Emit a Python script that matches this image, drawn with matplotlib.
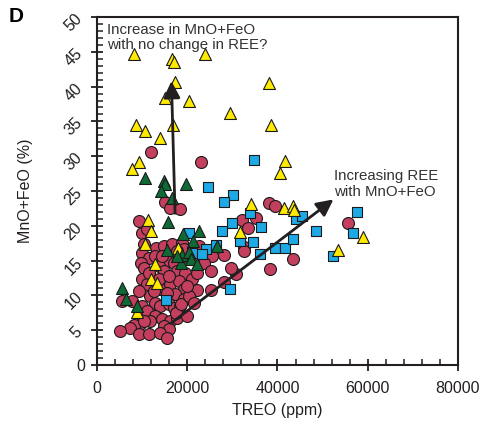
import matplotlib
matplotlib.use("Agg")
import matplotlib.pyplot as plt
from matplotlib.ticker import MultipleLocator

plt.rcParams['font.family'] = ['Liberation Sans', 'DejaVu Sans']

# ---- data (TREO ppm, MnO+FeO %) ----
red_x = [11999, 23109, 15110, 16221, 18443, 9332, 9999, 11110, 38218, 39551,
         32219, 33552, 35330, 32663, 13110, 14887, 16665, 10443, 10000, 11554,
         12888, 15554, 17110, 13777, 9800, 18887, 43329, 55550, 28219, 25553,
         38440, 10443, 14887, 17776, 19554, 9999, 11110, 13999, 16221, 18221,
         19331, 17332, 19331, 11777, 12888, 9999, 11110, 13999, 15999, 17110,
         18443, 12888, 11777, 14443, 16221, 14887, 15999, 9555, 8222, 7333,
         5555, 5111, 9332, 11554, 13999, 15554, 17776, 10443, 17554, 19998,
         18665, 22220, 25331, 28219, 30886, 29775, 32663, 23109, 20442, 21109,
         20442, 19331, 21553, 22664, 17776, 14443, 23775, 25331, 22220, 12666,
         15554, 19998, 9332, 7777, 11554, 13777, 15999, 21553]
red_y = [30.6, 29.2, 23.4, 22.6, 22.4, 20.7, 19.0, 19.5, 23.3, 22.8,
         20.8, 19.7, 21.1, 17.0, 16.8, 17.1, 17.4, 17.4, 16.1, 15.4,
         15.7, 14.9, 14.7, 14.2, 14.6, 17.5, 15.2, 20.4, 15.8, 15.7,
         13.8, 13.9, 13.5, 13.5, 13.2, 12.4, 11.6, 10.9, 11.6, 12.1,
         10.9, 10.2, 9.5, 9.9, 8.9, 8.5, 7.8, 8.5, 8.8, 8.2,
         8.5, 7.0, 6.3, 6.6, 6.3, 5.6, 5.2, 5.9, 5.7, 5.3,
         9.2, 4.9, 4.5, 4.5, 4.6, 3.9, 6.8, 6.3, 7.5, 7.0,
         8.8, 10.8, 10.8, 11.9, 13.1, 13.9, 16.4, 15.9, 15.4, 12.4,
         9.9, 16.7, 16.4, 17.1, 16.4, 15.7, 14.7, 13.5, 13.2, 10.6,
         10.3, 11.4, 10.6, 9.2, 13.2, 12.4, 12.8, 8.9]

blue_x = [34885, 24664, 30219, 28219, 33997, 29997, 36441, 27775, 20442, 31775,
          34663, 39551, 41773, 36219, 24220, 26442, 21109, 23331, 43995, 45328,
          48439, 57550, 56661, 52217, 43329, 15332, 29553]
blue_y = [29.5, 25.6, 24.4, 23.4, 21.8, 20.4, 19.8, 19.3, 19.0, 17.8,
          17.7, 16.8, 16.8, 15.9, 16.7, 17.2, 16.1, 15.9, 21.0, 21.4,
          19.3, 22.0, 19.0, 15.7, 18.1, 9.3, 10.9]

yellow_x = [8222, 16665, 17110, 23998, 17332, 15110, 20442, 38218, 29553, 8666,
            10666, 16887, 38663, 13999, 9332, 7777, 34219, 41551, 41773, 40662,
            11332, 11999, 10666, 17998, 31775, 43329, 43551, 58883, 53328, 12888,
            11999, 13332, 8888]
yellow_y = [44.7, 44.0, 43.5, 44.7, 40.6, 38.4, 37.9, 40.5, 36.2, 34.5,
            33.6, 34.5, 34.5, 32.6, 29.2, 28.2, 23.1, 22.6, 29.3, 27.6,
            20.8, 19.3, 17.4, 16.8, 19.1, 22.8, 22.3, 18.4, 16.5, 14.5,
            12.4, 11.8, 7.6]

green_x = [10666, 14887, 15110, 19776, 14221, 16665, 15776, 22664, 19109, 21331,
           26664, 15554, 18887, 20442, 20887, 22220, 18665, 17776, 5555, 6444,
           8888]
green_y = [26.9, 26.4, 26.0, 26.0, 25.0, 24.0, 20.5, 19.3, 18.8, 17.8,
           17.1, 16.5, 15.8, 16.2, 15.2, 14.5, 14.7, 15.7, 11.1, 9.5,
           8.5]

# arrows: (tail, head)
arrow1 = ((17300, 21.8), (16500, 40.8))
arrow2 = ((16400, 6.0), (52400, 23.8))

x_ticks = [0, 20000, 40000, 60000, 80000]
y_ticks = [0, 5, 10, 15, 20, 25, 30, 35, 40, 45, 50]

fig = plt.figure(figsize=(4.83, 4.25), dpi=100)
ax = fig.add_axes([0.2008, 0.141, 0.7474, 0.819])

ec = '#1a1a1a'
ax.scatter(red_x, red_y, s=74, marker='o', facecolor='#C43F5E', edgecolor=ec, linewidth=0.8, zorder=3)
ax.scatter(blue_x, blue_y, s=60, marker='s', facecolor='#1DA9E6', edgecolor=ec, linewidth=0.8, zorder=4)
ax.scatter(yellow_x, yellow_y, s=74, marker='^', facecolor='#FFEA00', edgecolor=ec, linewidth=0.8, zorder=5)
ax.scatter(green_x, green_y, s=74, marker='^', facecolor='#0F6B35', edgecolor=ec, linewidth=0.8, zorder=5)

for (t, h) in (arrow1, arrow2):
    ax.annotate('', xy=h, xytext=t,
                arrowprops=dict(arrowstyle='-|>,head_length=1.0,head_width=0.5',
                                color='#231f20', lw=2.0, shrinkA=0, shrinkB=0),
                zorder=6)

ax.text(2300, 49.2, 'Increase in MnO+FeO\nwith no change in REE?', fontsize=10.8,
        color='#333333', ha='left', va='top', linespacing=1.12, zorder=7)
ax.text(52500, 28.1, 'Increasing REE\nwith MnO+FeO', fontsize=10.8,
        color='#333333', ha='left', va='top', linespacing=1.18, zorder=7)

ax.set_xlim(0, 80000)
ax.set_ylim(0, 50)
ax.set_xticks(x_ticks)
ax.set_yticks(y_ticks)
ax.xaxis.set_minor_locator(MultipleLocator(4000))
ax.yaxis.set_minor_locator(MultipleLocator(1))
ax.tick_params(which='major', direction='inout', length=9, width=1.3, labelsize=11.5, colors='#231f20')
ax.tick_params(which='minor', direction='in', length=4, width=1.1, colors='#231f20')
ax.tick_params(axis='x', which='major', pad=7)
ax.tick_params(axis='y', which='major', pad=4)
for lab in ax.get_yticklabels():
    if lab.get_text() != '0':
        lab.set_rotation(45)
for sp in ax.spines.values():
    sp.set_linewidth(1.5)
    sp.set_color('#231f20')

ax.set_xlabel('TREO (ppm)', fontsize=11.5, color='#231f20', labelpad=5)
ax.set_ylabel('MnO+FeO (%)', fontsize=11.5, color='#231f20', labelpad=21)

fig.text(0.018, 0.962, 'D', fontsize=15, fontweight='bold', ha='left', va='center')

fig.savefig('out.png', dpi=100)
